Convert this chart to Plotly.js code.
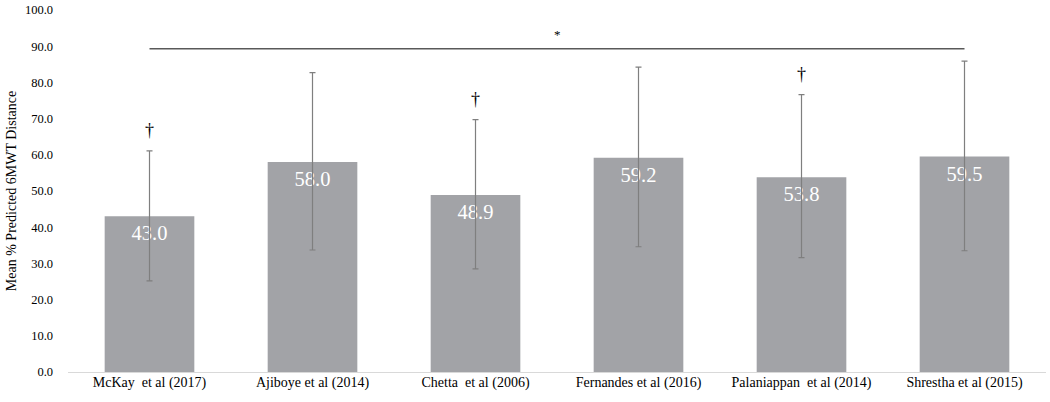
<!DOCTYPE html>
<html>
<head>
<meta charset="utf-8">
<script src="https://cdn.plot.ly/plotly-3.0.1.min.js"></script>
<style>body{margin:0;background:#fff}#Graph{width:1050px;height:402px}</style>
</head>
<body>
<div id="Graph"></div>
<script>
var studies = ['McKay  et al (2017)', 'Ajiboye et al (2014)', 'Chetta  et al (2006)', 'Fernandes et al (2016)', 'Palaniappan  et al (2014)', 'Shrestha et al (2015)'];
var means = [43.0, 58.0, 48.9, 59.2, 53.8, 59.5];
var errUp = [18.1, 24.7, 20.8, 25.0, 22.8, 26.4];
var errDown = [17.8, 24.3, 20.4, 24.6, 22.2, 26.0];
var dagger = [true, false, true, false, true, false];
var sigLevel = 89.3;

var serif = 'Liberation Serif';

var bars = {
  x: studies,
  y: means,
  type: 'bar',
  marker: {color: '#a2a3a7'},
  hoverinfo: 'skip'
};

// value labels sit a little under the bar top, below the error bars
var labels = {
  x: studies,
  y: means.map(v => v - 5.2),
  type: 'scatter',
  mode: 'text',
  text: means.map(v => v.toFixed(1)),
  textposition: 'middle center',
  textfont: {family: serif, size: 20.5, color: '#fff'},
  hoverinfo: 'skip'
};

var errs = {
  x: studies,
  y: means,
  type: 'scatter',
  mode: 'markers',
  marker: {size: 1, opacity: 0},
  error_y: {type: 'data', symmetric: false, array: errUp, arrayminus: errDown,
            color: '#7f7f7f', thickness: 1.2, width: 3},
  hoverinfo: 'skip'
};

var notes = [];
studies.forEach((s, i) => {
  if (dagger[i]) {
    notes.push({x: s, y: means[i] + errUp[i] + 5.8, text: '†', showarrow: false,
      font: {family: serif, size: 18, color: '#000'}});
  }
});
notes.push({x: 2.5, y: sigLevel + 4, text: '*', showarrow: false,
  font: {family: serif, size: 13, color: '#000'}});

var layout = {
  width: 1050, height: 402,
  margin: {l: 68, r: 4, t: 10, b: 30},
  bargap: 0.45,
  showlegend: false,
  plot_bgcolor: '#fff', paper_bgcolor: '#fff',
  font: {family: serif, size: 13, color: '#000'},
  xaxis: {
    showline: true, linecolor: '#d9d9d9', linewidth: 1,
    ticks: '', ticklabelstandoff: -3,
    tickfont: {family: serif, size: 14, color: '#000'}
  },
  yaxis: {
    range: [0, 100], dtick: 10, tickformat: '.1f',
    showgrid: false, zeroline: false, showline: false,
    ticks: '', ticklabelstandoff: 14,
    tickfont: {family: serif, size: 12.5, color: '#000'},
    title: {text: 'Mean % Predicted 6MWT Distance', standoff: 4,
            font: {family: serif, size: 14, color: '#000'}}
  },
  shapes: [{type: 'line', xref: 'x', yref: 'y', x0: 0, x1: studies.length - 1,
    y0: sigLevel, y1: sigLevel, line: {color: '#595959', width: 1.5}}],
  annotations: notes
};

Plotly.newPlot('Graph', [bars, labels, errs], layout, {displayModeBar: false});
</script>
</body>
</html>
